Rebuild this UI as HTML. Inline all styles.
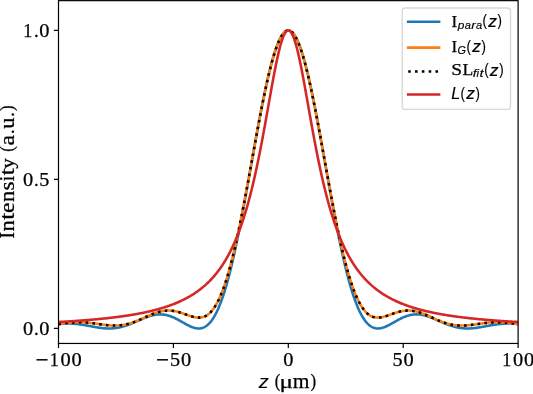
<!DOCTYPE html>
<html><head><meta charset="utf-8"><title>Intensity vs z</title><style>
html,body{margin:0;padding:0;background:#fff;}
body{width:533px;height:394px;overflow:hidden;}
svg{display:block;will-change:transform;}
</style></head><body>
<svg width="533" height="394" viewBox="0 0 533 394">
<rect x="0" y="0" width="533" height="394" fill="#fff"/>
<defs><clipPath id="ax"><rect x="58.5" y="0.6" width="459.6" height="342.85"/></clipPath></defs>
<g clip-path="url(#ax)" fill="none" stroke-width="2.57" stroke-linejoin="round">
<path d="M58.50,324.05 59.07,323.99 59.65,323.94 60.22,323.89 60.80,323.84 61.37,323.80 61.95,323.76 62.52,323.72 63.10,323.69 63.67,323.66 64.25,323.63 64.82,323.61 65.39,323.59 65.97,323.57 66.54,323.56 67.12,323.55 67.69,323.55 68.27,323.55 68.84,323.55 69.42,323.56 69.99,323.57 70.56,323.59 71.14,323.61 71.71,323.64 72.29,323.66 72.86,323.70 73.44,323.73 74.01,323.77 74.59,323.82 75.16,323.87 75.74,323.92 76.31,323.97 76.88,324.03 77.46,324.09 78.03,324.16 78.61,324.23 79.18,324.30 79.76,324.38 80.33,324.45 80.91,324.54 81.48,324.62 82.05,324.71 82.63,324.80 83.20,324.89 83.78,324.98 84.35,325.08 84.93,325.17 85.50,325.27 86.08,325.38 86.65,325.48 87.22,325.58 87.80,325.69 88.37,325.79 88.95,325.90 89.52,326.00 90.10,326.11 90.67,326.22 91.25,326.33 91.82,326.43 92.40,326.54 92.97,326.64 93.54,326.75 94.12,326.85 94.69,326.95 95.27,327.05 95.84,327.15 96.42,327.25 96.99,327.34 97.57,327.44 98.14,327.53 98.72,327.61 99.29,327.69 99.86,327.78 100.44,327.85 101.01,327.92 101.59,327.99 102.16,328.06 102.74,328.12 103.31,328.18 103.89,328.23 104.46,328.28 105.03,328.32 105.61,328.35 106.18,328.39 106.76,328.41 107.33,328.43 107.91,328.45 108.48,328.46 109.06,328.46 109.63,328.46 110.21,328.45 110.78,328.43 111.35,328.41 111.93,328.38 112.50,328.35 113.08,328.30 113.65,328.26 114.23,328.20 114.80,328.14 115.38,328.07 115.95,327.99 116.52,327.91 117.10,327.82 117.67,327.72 118.25,327.62 118.82,327.51 119.40,327.39 119.97,327.27 120.55,327.14 121.12,327.00 121.70,326.85 122.27,326.70 122.84,326.55 123.42,326.38 123.99,326.21 124.57,326.04 125.14,325.86 125.72,325.67 126.29,325.48 126.87,325.28 127.44,325.08 128.01,324.87 128.59,324.66 129.16,324.44 129.74,324.22 130.31,323.99 130.89,323.76 131.46,323.53 132.04,323.29 132.61,323.05 133.19,322.81 133.76,322.57 134.33,322.32 134.91,322.07 135.48,321.82 136.06,321.57 136.63,321.32 137.21,321.07 137.78,320.81 138.36,320.56 138.93,320.31 139.50,320.06 140.08,319.81 140.65,319.56 141.23,319.31 141.80,319.06 142.38,318.82 142.95,318.58 143.53,318.34 144.10,318.11 144.68,317.88 145.25,317.66 145.82,317.44 146.40,317.22 146.97,317.01 147.55,316.81 148.12,316.61 148.70,316.42 149.27,316.24 149.85,316.06 150.42,315.89 150.99,315.73 151.57,315.57 152.14,315.43 152.72,315.29 153.29,315.16 153.87,315.04 154.44,314.93 155.02,314.83 155.59,314.74 156.17,314.66 156.74,314.59 157.31,314.53 157.89,314.48 158.46,314.44 159.04,314.42 159.61,314.40 160.19,314.40 160.76,314.40 161.34,314.42 161.91,314.45 162.48,314.50 163.06,314.55 163.63,314.61 164.21,314.69 164.78,314.78 165.36,314.88 165.93,314.99 166.51,315.12 167.08,315.25 167.66,315.40 168.23,315.55 168.80,315.72 169.38,315.90 169.95,316.09 170.53,316.29 171.10,316.50 171.68,316.72 172.25,316.95 172.83,317.19 173.40,317.44 173.97,317.69 174.55,317.96 175.12,318.23 175.70,318.51 176.27,318.80 176.85,319.09 177.42,319.39 178.00,319.70 178.57,320.00 179.15,320.32 179.72,320.64 180.29,320.96 180.87,321.28 181.44,321.61 182.02,321.93 182.59,322.26 183.17,322.59 183.74,322.91 184.32,323.24 184.89,323.56 185.46,323.88 186.04,324.20 186.61,324.51 187.19,324.82 187.76,325.12 188.34,325.41 188.91,325.69 189.49,325.97 190.06,326.24 190.63,326.49 191.21,326.74 191.78,326.97 192.36,327.19 192.93,327.39 193.51,327.58 194.08,327.76 194.66,327.91 195.23,328.05 195.81,328.17 196.38,328.27 196.95,328.35 197.53,328.41 198.10,328.45 198.68,328.46 199.25,328.45 199.83,328.41 200.40,328.35 200.98,328.25 201.55,328.13 202.12,327.99 202.70,327.81 203.27,327.60 203.85,327.36 204.42,327.08 205.00,326.77 205.57,326.43 206.15,326.05 206.72,325.64 207.30,325.19 207.87,324.70 208.44,324.17 209.02,323.61 209.59,323.00 210.17,322.36 210.74,321.67 211.32,320.94 211.89,320.17 212.47,319.35 213.04,318.49 213.62,317.59 214.19,316.64 214.76,315.65 215.34,314.61 215.91,313.52 216.49,312.39 217.06,311.21 217.64,309.99 218.21,308.71 218.79,307.39 219.36,306.02 219.93,304.60 220.51,303.14 221.08,301.62 221.66,300.06 222.23,298.44 222.81,296.78 223.38,295.07 223.96,293.31 224.53,291.51 225.11,289.65 225.68,287.74 226.25,285.79 226.83,283.79 227.40,281.74 227.98,279.65 228.55,277.51 229.13,275.32 229.70,273.09 230.28,270.81 230.85,268.48 231.42,266.12 232.00,263.71 232.57,261.25 233.15,258.76 233.72,256.22 234.30,253.64 234.87,251.02 235.45,248.37 236.02,245.67 236.60,242.94 237.17,240.17 237.74,237.37 238.32,234.53 238.89,231.67 239.47,228.77 240.04,225.84 240.62,222.88 241.19,219.89 241.77,216.87 242.34,213.83 242.91,210.77 243.49,207.69 244.06,204.58 244.64,201.45 245.21,198.31 245.79,195.14 246.36,191.97 246.94,188.78 247.51,185.57 248.09,182.36 248.66,179.14 249.23,175.91 249.81,172.67 250.38,169.44 250.96,166.19 251.53,162.95 252.11,159.71 252.68,156.48 253.26,153.24 253.83,150.02 254.40,146.80 254.98,143.59 255.55,140.39 256.13,137.21 256.70,134.04 257.28,130.89 257.85,127.76 258.43,124.65 259.00,121.56 259.57,118.50 260.15,115.46 260.72,112.45 261.30,109.47 261.87,106.53 262.45,103.61 263.02,100.73 263.60,97.89 264.17,95.08 264.75,92.31 265.32,89.59 265.89,86.91 266.47,84.27 267.04,81.69 267.62,79.14 268.19,76.65 268.77,74.21 269.34,71.83 269.92,69.49 270.49,67.22 271.06,65.00 271.64,62.84 272.21,60.73 272.79,58.69 273.36,56.72 273.94,54.80 274.51,52.95 275.09,51.17 275.66,49.45 276.24,47.81 276.81,46.23 277.38,44.72 277.96,43.29 278.53,41.92 279.11,40.63 279.68,39.41 280.26,38.27 280.83,37.21 281.41,36.22 281.98,35.30 282.56,34.47 283.13,33.71 283.70,33.03 284.28,32.43 284.85,31.91 285.43,31.47 286.00,31.10 286.58,30.82 287.15,30.62 287.73,30.50 288.30,30.46 288.87,30.50 289.45,30.62 290.02,30.82 290.60,31.10 291.17,31.47 291.75,31.91 292.32,32.43 292.90,33.03 293.47,33.71 294.05,34.47 294.62,35.30 295.19,36.22 295.77,37.21 296.34,38.27 296.92,39.41 297.49,40.63 298.07,41.92 298.64,43.29 299.22,44.72 299.79,46.23 300.36,47.81 300.94,49.45 301.51,51.17 302.09,52.95 302.66,54.80 303.24,56.72 303.81,58.69 304.39,60.73 304.96,62.84 305.54,65.00 306.11,67.22 306.68,69.49 307.26,71.83 307.83,74.21 308.41,76.65 308.98,79.14 309.56,81.69 310.13,84.27 310.71,86.91 311.28,89.59 311.85,92.31 312.43,95.08 313.00,97.89 313.58,100.73 314.15,103.61 314.73,106.53 315.30,109.47 315.88,112.45 316.45,115.46 317.03,118.50 317.60,121.56 318.17,124.65 318.75,127.76 319.32,130.89 319.90,134.04 320.47,137.21 321.05,140.39 321.62,143.59 322.20,146.80 322.77,150.02 323.34,153.24 323.92,156.48 324.49,159.71 325.07,162.95 325.64,166.19 326.22,169.44 326.79,172.67 327.37,175.91 327.94,179.14 328.51,182.36 329.09,185.57 329.66,188.78 330.24,191.97 330.81,195.14 331.39,198.31 331.96,201.45 332.54,204.58 333.11,207.69 333.69,210.77 334.26,213.83 334.83,216.87 335.41,219.89 335.98,222.88 336.56,225.84 337.13,228.77 337.71,231.67 338.28,234.53 338.86,237.37 339.43,240.17 340.00,242.94 340.58,245.67 341.15,248.37 341.73,251.02 342.30,253.64 342.88,256.22 343.45,258.76 344.03,261.25 344.60,263.71 345.18,266.12 345.75,268.48 346.32,270.81 346.90,273.09 347.47,275.32 348.05,277.51 348.62,279.65 349.20,281.74 349.77,283.79 350.35,285.79 350.92,287.74 351.50,289.65 352.07,291.51 352.64,293.31 353.22,295.07 353.79,296.78 354.37,298.44 354.94,300.06 355.52,301.62 356.09,303.14 356.67,304.60 357.24,306.02 357.81,307.39 358.39,308.71 358.96,309.99 359.54,311.21 360.11,312.39 360.69,313.52 361.26,314.61 361.84,315.65 362.41,316.64 362.99,317.59 363.56,318.49 364.13,319.35 364.71,320.17 365.28,320.94 365.86,321.67 366.43,322.36 367.01,323.00 367.58,323.61 368.16,324.17 368.73,324.70 369.30,325.19 369.88,325.64 370.45,326.05 371.03,326.43 371.60,326.77 372.18,327.08 372.75,327.36 373.33,327.60 373.90,327.81 374.48,327.99 375.05,328.13 375.62,328.25 376.20,328.35 376.77,328.41 377.35,328.45 377.92,328.46 378.50,328.45 379.07,328.41 379.65,328.35 380.22,328.27 380.79,328.17 381.37,328.05 381.94,327.91 382.52,327.76 383.09,327.58 383.67,327.39 384.24,327.19 384.82,326.97 385.39,326.74 385.97,326.49 386.54,326.24 387.11,325.97 387.69,325.69 388.26,325.41 388.84,325.12 389.41,324.82 389.99,324.51 390.56,324.20 391.14,323.88 391.71,323.56 392.28,323.24 392.86,322.91 393.43,322.59 394.01,322.26 394.58,321.93 395.16,321.61 395.73,321.28 396.31,320.96 396.88,320.64 397.46,320.32 398.03,320.00 398.60,319.70 399.18,319.39 399.75,319.09 400.33,318.80 400.90,318.51 401.48,318.23 402.05,317.96 402.63,317.69 403.20,317.44 403.77,317.19 404.35,316.95 404.92,316.72 405.50,316.50 406.07,316.29 406.65,316.09 407.22,315.90 407.80,315.72 408.37,315.55 408.94,315.40 409.52,315.25 410.09,315.12 410.67,314.99 411.24,314.88 411.82,314.78 412.39,314.69 412.97,314.61 413.54,314.55 414.12,314.50 414.69,314.45 415.26,314.42 415.84,314.40 416.41,314.40 416.99,314.40 417.56,314.42 418.14,314.44 418.71,314.48 419.29,314.53 419.86,314.59 420.44,314.66 421.01,314.74 421.58,314.83 422.16,314.93 422.73,315.04 423.31,315.16 423.88,315.29 424.46,315.43 425.03,315.57 425.61,315.73 426.18,315.89 426.75,316.06 427.33,316.24 427.90,316.42 428.48,316.61 429.05,316.81 429.63,317.01 430.20,317.22 430.78,317.44 431.35,317.66 431.93,317.88 432.50,318.11 433.07,318.34 433.65,318.58 434.22,318.82 434.80,319.06 435.37,319.31 435.95,319.56 436.52,319.81 437.10,320.06 437.67,320.31 438.24,320.56 438.82,320.81 439.39,321.07 439.97,321.32 440.54,321.57 441.12,321.82 441.69,322.07 442.27,322.32 442.84,322.57 443.42,322.81 443.99,323.05 444.56,323.29 445.14,323.53 445.71,323.76 446.29,323.99 446.86,324.22 447.44,324.44 448.01,324.66 448.59,324.87 449.16,325.08 449.73,325.28 450.31,325.48 450.88,325.67 451.46,325.86 452.03,326.04 452.61,326.21 453.18,326.38 453.76,326.55 454.33,326.70 454.90,326.85 455.48,327.00 456.05,327.14 456.63,327.27 457.20,327.39 457.78,327.51 458.35,327.62 458.93,327.72 459.50,327.82 460.08,327.91 460.65,327.99 461.22,328.07 461.80,328.14 462.37,328.20 462.95,328.26 463.52,328.30 464.10,328.35 464.67,328.38 465.25,328.41 465.82,328.43 466.39,328.45 466.97,328.46 467.54,328.46 468.12,328.46 468.69,328.45 469.27,328.43 469.84,328.41 470.42,328.39 470.99,328.35 471.57,328.32 472.14,328.28 472.71,328.23 473.29,328.18 473.86,328.12 474.44,328.06 475.01,327.99 475.59,327.92 476.16,327.85 476.74,327.78 477.31,327.69 477.88,327.61 478.46,327.53 479.03,327.44 479.61,327.34 480.18,327.25 480.76,327.15 481.33,327.05 481.91,326.95 482.48,326.85 483.06,326.75 483.63,326.64 484.20,326.54 484.78,326.43 485.35,326.33 485.93,326.22 486.50,326.11 487.08,326.00 487.65,325.90 488.23,325.79 488.80,325.69 489.38,325.58 489.95,325.48 490.52,325.38 491.10,325.27 491.67,325.17 492.25,325.08 492.82,324.98 493.40,324.89 493.97,324.80 494.55,324.71 495.12,324.62 495.69,324.54 496.27,324.45 496.84,324.38 497.42,324.30 497.99,324.23 498.57,324.16 499.14,324.09 499.72,324.03 500.29,323.97 500.87,323.92 501.44,323.87 502.01,323.82 502.59,323.77 503.16,323.73 503.74,323.70 504.31,323.66 504.89,323.64 505.46,323.61 506.04,323.59 506.61,323.57 507.18,323.56 507.76,323.55 508.33,323.55 508.91,323.55 509.48,323.55 510.06,323.56 510.63,323.57 511.21,323.59 511.78,323.61 512.36,323.63 512.93,323.66 513.50,323.69 514.08,323.72 514.65,323.76 515.23,323.80 515.80,323.84 516.38,323.89 516.95,323.94 517.53,323.99 518.10,324.05" stroke="#1f77b4" stroke-linecap="square"/>
<path id="og" d="M58.50,324.20 59.07,324.11 59.65,324.02 60.22,323.93 60.80,323.84 61.37,323.76 61.95,323.67 62.52,323.59 63.10,323.50 63.67,323.42 64.25,323.34 64.82,323.26 65.39,323.19 65.97,323.11 66.54,323.04 67.12,322.97 67.69,322.91 68.27,322.84 68.84,322.78 69.42,322.72 69.99,322.67 70.56,322.61 71.14,322.56 71.71,322.52 72.29,322.47 72.86,322.43 73.44,322.39 74.01,322.36 74.59,322.33 75.16,322.30 75.74,322.28 76.31,322.26 76.88,322.25 77.46,322.24 78.03,322.23 78.61,322.22 79.18,322.22 79.76,322.23 80.33,322.23 80.91,322.24 81.48,322.26 82.05,322.27 82.63,322.30 83.20,322.32 83.78,322.35 84.35,322.38 84.93,322.42 85.50,322.46 86.08,322.50 86.65,322.55 87.22,322.59 87.80,322.65 88.37,322.70 88.95,322.76 89.52,322.82 90.10,322.88 90.67,322.95 91.25,323.02 91.82,323.09 92.40,323.16 92.97,323.23 93.54,323.31 94.12,323.38 94.69,323.46 95.27,323.54 95.84,323.62 96.42,323.71 96.99,323.79 97.57,323.87 98.14,323.95 98.72,324.04 99.29,324.12 99.86,324.20 100.44,324.29 101.01,324.37 101.59,324.45 102.16,324.53 102.74,324.61 103.31,324.69 103.89,324.76 104.46,324.83 105.03,324.90 105.61,324.97 106.18,325.04 106.76,325.10 107.33,325.16 107.91,325.22 108.48,325.27 109.06,325.32 109.63,325.37 110.21,325.41 110.78,325.45 111.35,325.48 111.93,325.51 112.50,325.54 113.08,325.55 113.65,325.57 114.23,325.58 114.80,325.58 115.38,325.58 115.95,325.57 116.52,325.56 117.10,325.54 117.67,325.51 118.25,325.48 118.82,325.44 119.40,325.40 119.97,325.35 120.55,325.29 121.12,325.22 121.70,325.15 122.27,325.08 122.84,324.99 123.42,324.90 123.99,324.80 124.57,324.70 125.14,324.59 125.72,324.47 126.29,324.34 126.87,324.21 127.44,324.07 128.01,323.93 128.59,323.78 129.16,323.62 129.74,323.45 130.31,323.28 130.89,323.11 131.46,322.93 132.04,322.74 132.61,322.54 133.19,322.34 133.76,322.14 134.33,321.93 134.91,321.71 135.48,321.49 136.06,321.27 136.63,321.04 137.21,320.81 137.78,320.57 138.36,320.33 138.93,320.09 139.50,319.84 140.08,319.59 140.65,319.34 141.23,319.08 141.80,318.83 142.38,318.57 142.95,318.31 143.53,318.05 144.10,317.79 144.68,317.53 145.25,317.27 145.82,317.01 146.40,316.75 146.97,316.49 147.55,316.23 148.12,315.97 148.70,315.72 149.27,315.47 149.85,315.22 150.42,314.97 150.99,314.73 151.57,314.49 152.14,314.26 152.72,314.03 153.29,313.80 153.87,313.58 154.44,313.37 155.02,313.16 155.59,312.96 156.17,312.76 156.74,312.57 157.31,312.39 157.89,312.21 158.46,312.05 159.04,311.89 159.61,311.73 160.19,311.59 160.76,311.46 161.34,311.33 161.91,311.21 162.48,311.11 163.06,311.01 163.63,310.92 164.21,310.84 164.78,310.77 165.36,310.71 165.93,310.66 166.51,310.62 167.08,310.59 167.66,310.57 168.23,310.56 168.80,310.57 169.38,310.58 169.95,310.60 170.53,310.63 171.10,310.67 171.68,310.73 172.25,310.79 172.83,310.86 173.40,310.94 173.97,311.03 174.55,311.13 175.12,311.24 175.70,311.36 176.27,311.48 176.85,311.62 177.42,311.76 178.00,311.91 178.57,312.07 179.15,312.23 179.72,312.40 180.29,312.58 180.87,312.76 181.44,312.94 182.02,313.13 182.59,313.33 183.17,313.53 183.74,313.73 184.32,313.93 184.89,314.13 185.46,314.34 186.04,314.54 186.61,314.75 187.19,314.95 187.76,315.16 188.34,315.36 188.91,315.55 189.49,315.75 190.06,315.93 190.63,316.12 191.21,316.29 191.78,316.46 192.36,316.62 192.93,316.77 193.51,316.92 194.08,317.05 194.66,317.17 195.23,317.27 195.81,317.37 196.38,317.45 196.95,317.51 197.53,317.56 198.10,317.59 198.68,317.60 199.25,317.60 199.83,317.57 200.40,317.52 200.98,317.46 201.55,317.36 202.12,317.25 202.70,317.11 203.27,316.94 203.85,316.75 204.42,316.53 205.00,316.28 205.57,316.00 206.15,315.69 206.72,315.35 207.30,314.98 207.87,314.58 208.44,314.14 209.02,313.67 209.59,313.16 210.17,312.61 210.74,312.03 211.32,311.41 211.89,310.75 212.47,310.05 213.04,309.32 213.62,308.54 214.19,307.72 214.76,306.85 215.34,305.95 215.91,305.00 216.49,304.01 217.06,302.97 217.64,301.89 218.21,300.76 218.79,299.59 219.36,298.37 219.93,297.11 220.51,295.80 221.08,294.44 221.66,293.03 222.23,291.58 222.81,290.08 223.38,288.53 223.96,286.93 224.53,285.29 225.11,283.59 225.68,281.85 226.25,280.06 226.83,278.23 227.40,276.34 227.98,274.41 228.55,272.43 229.13,270.41 229.70,268.33 230.28,266.21 230.85,264.05 231.42,261.84 232.00,259.59 232.57,257.29 233.15,254.94 233.72,252.56 234.30,250.13 234.87,247.66 235.45,245.15 236.02,242.60 236.60,240.01 237.17,237.38 237.74,234.72 238.32,232.02 238.89,229.28 239.47,226.51 240.04,223.71 240.62,220.87 241.19,218.00 241.77,215.11 242.34,212.18 242.91,209.23 243.49,206.25 244.06,203.25 244.64,200.22 245.21,197.18 245.79,194.11 246.36,191.03 246.94,187.92 247.51,184.81 248.09,181.68 248.66,178.53 249.23,175.38 249.81,172.22 250.38,169.05 250.96,165.87 251.53,162.69 252.11,159.51 252.68,156.33 253.26,153.15 253.83,149.97 254.40,146.80 254.98,143.63 255.55,140.48 256.13,137.33 256.70,134.20 257.28,131.08 257.85,127.98 258.43,124.90 259.00,121.83 259.57,118.79 260.15,115.77 260.72,112.78 261.30,109.81 261.87,106.87 262.45,103.97 263.02,101.09 263.60,98.26 264.17,95.45 264.75,92.69 265.32,89.97 265.89,87.28 266.47,84.64 267.04,82.05 267.62,79.50 268.19,77.01 268.77,74.56 269.34,72.16 269.92,69.82 270.49,67.53 271.06,65.30 271.64,63.13 272.21,61.01 272.79,58.96 273.36,56.97 273.94,55.04 274.51,53.18 275.09,51.38 275.66,49.65 276.24,47.99 276.81,46.40 277.38,44.87 277.96,43.42 278.53,42.05 279.11,40.74 279.68,39.51 280.26,38.36 280.83,37.28 281.41,36.28 281.98,35.36 282.56,34.51 283.13,33.75 283.70,33.06 284.28,32.45 284.85,31.92 285.43,31.48 286.00,31.11 286.58,30.83 287.15,30.62 287.73,30.50 288.30,30.46 288.87,30.50 289.45,30.62 290.02,30.83 290.60,31.11 291.17,31.48 291.75,31.92 292.32,32.45 292.90,33.06 293.47,33.75 294.05,34.51 294.62,35.36 295.19,36.28 295.77,37.28 296.34,38.36 296.92,39.51 297.49,40.74 298.07,42.05 298.64,43.42 299.22,44.87 299.79,46.40 300.36,47.99 300.94,49.65 301.51,51.38 302.09,53.18 302.66,55.04 303.24,56.97 303.81,58.96 304.39,61.01 304.96,63.13 305.54,65.30 306.11,67.53 306.68,69.82 307.26,72.16 307.83,74.56 308.41,77.01 308.98,79.50 309.56,82.05 310.13,84.64 310.71,87.28 311.28,89.97 311.85,92.69 312.43,95.45 313.00,98.26 313.58,101.09 314.15,103.97 314.73,106.87 315.30,109.81 315.88,112.78 316.45,115.77 317.03,118.79 317.60,121.83 318.17,124.90 318.75,127.98 319.32,131.08 319.90,134.20 320.47,137.33 321.05,140.48 321.62,143.63 322.20,146.80 322.77,149.97 323.34,153.15 323.92,156.33 324.49,159.51 325.07,162.69 325.64,165.87 326.22,169.05 326.79,172.22 327.37,175.38 327.94,178.53 328.51,181.68 329.09,184.81 329.66,187.92 330.24,191.03 330.81,194.11 331.39,197.18 331.96,200.22 332.54,203.25 333.11,206.25 333.69,209.23 334.26,212.18 334.83,215.11 335.41,218.00 335.98,220.87 336.56,223.71 337.13,226.51 337.71,229.28 338.28,232.02 338.86,234.72 339.43,237.38 340.00,240.01 340.58,242.60 341.15,245.15 341.73,247.66 342.30,250.13 342.88,252.56 343.45,254.94 344.03,257.29 344.60,259.59 345.18,261.84 345.75,264.05 346.32,266.21 346.90,268.33 347.47,270.41 348.05,272.43 348.62,274.41 349.20,276.34 349.77,278.23 350.35,280.06 350.92,281.85 351.50,283.59 352.07,285.29 352.64,286.93 353.22,288.53 353.79,290.08 354.37,291.58 354.94,293.03 355.52,294.44 356.09,295.80 356.67,297.11 357.24,298.37 357.81,299.59 358.39,300.76 358.96,301.89 359.54,302.97 360.11,304.01 360.69,305.00 361.26,305.95 361.84,306.85 362.41,307.72 362.99,308.54 363.56,309.32 364.13,310.05 364.71,310.75 365.28,311.41 365.86,312.03 366.43,312.61 367.01,313.16 367.58,313.67 368.16,314.14 368.73,314.58 369.30,314.98 369.88,315.35 370.45,315.69 371.03,316.00 371.60,316.28 372.18,316.53 372.75,316.75 373.33,316.94 373.90,317.11 374.48,317.25 375.05,317.36 375.62,317.46 376.20,317.52 376.77,317.57 377.35,317.60 377.92,317.60 378.50,317.59 379.07,317.56 379.65,317.51 380.22,317.45 380.79,317.37 381.37,317.27 381.94,317.17 382.52,317.05 383.09,316.92 383.67,316.77 384.24,316.62 384.82,316.46 385.39,316.29 385.97,316.12 386.54,315.93 387.11,315.75 387.69,315.55 388.26,315.36 388.84,315.16 389.41,314.95 389.99,314.75 390.56,314.54 391.14,314.34 391.71,314.13 392.28,313.93 392.86,313.73 393.43,313.53 394.01,313.33 394.58,313.13 395.16,312.94 395.73,312.76 396.31,312.58 396.88,312.40 397.46,312.23 398.03,312.07 398.60,311.91 399.18,311.76 399.75,311.62 400.33,311.48 400.90,311.36 401.48,311.24 402.05,311.13 402.63,311.03 403.20,310.94 403.77,310.86 404.35,310.79 404.92,310.73 405.50,310.67 406.07,310.63 406.65,310.60 407.22,310.58 407.80,310.57 408.37,310.56 408.94,310.57 409.52,310.59 410.09,310.62 410.67,310.66 411.24,310.71 411.82,310.77 412.39,310.84 412.97,310.92 413.54,311.01 414.12,311.11 414.69,311.21 415.26,311.33 415.84,311.46 416.41,311.59 416.99,311.73 417.56,311.89 418.14,312.05 418.71,312.21 419.29,312.39 419.86,312.57 420.44,312.76 421.01,312.96 421.58,313.16 422.16,313.37 422.73,313.58 423.31,313.80 423.88,314.03 424.46,314.26 425.03,314.49 425.61,314.73 426.18,314.97 426.75,315.22 427.33,315.47 427.90,315.72 428.48,315.97 429.05,316.23 429.63,316.49 430.20,316.75 430.78,317.01 431.35,317.27 431.93,317.53 432.50,317.79 433.07,318.05 433.65,318.31 434.22,318.57 434.80,318.83 435.37,319.08 435.95,319.34 436.52,319.59 437.10,319.84 437.67,320.09 438.24,320.33 438.82,320.57 439.39,320.81 439.97,321.04 440.54,321.27 441.12,321.49 441.69,321.71 442.27,321.93 442.84,322.14 443.42,322.34 443.99,322.54 444.56,322.74 445.14,322.93 445.71,323.11 446.29,323.28 446.86,323.45 447.44,323.62 448.01,323.78 448.59,323.93 449.16,324.07 449.73,324.21 450.31,324.34 450.88,324.47 451.46,324.59 452.03,324.70 452.61,324.80 453.18,324.90 453.76,324.99 454.33,325.08 454.90,325.15 455.48,325.22 456.05,325.29 456.63,325.35 457.20,325.40 457.78,325.44 458.35,325.48 458.93,325.51 459.50,325.54 460.08,325.56 460.65,325.57 461.22,325.58 461.80,325.58 462.37,325.58 462.95,325.57 463.52,325.55 464.10,325.54 464.67,325.51 465.25,325.48 465.82,325.45 466.39,325.41 466.97,325.37 467.54,325.32 468.12,325.27 468.69,325.22 469.27,325.16 469.84,325.10 470.42,325.04 470.99,324.97 471.57,324.90 472.14,324.83 472.71,324.76 473.29,324.69 473.86,324.61 474.44,324.53 475.01,324.45 475.59,324.37 476.16,324.29 476.74,324.20 477.31,324.12 477.88,324.04 478.46,323.95 479.03,323.87 479.61,323.79 480.18,323.71 480.76,323.62 481.33,323.54 481.91,323.46 482.48,323.38 483.06,323.31 483.63,323.23 484.20,323.16 484.78,323.09 485.35,323.02 485.93,322.95 486.50,322.88 487.08,322.82 487.65,322.76 488.23,322.70 488.80,322.65 489.38,322.59 489.95,322.55 490.52,322.50 491.10,322.46 491.67,322.42 492.25,322.38 492.82,322.35 493.40,322.32 493.97,322.30 494.55,322.27 495.12,322.26 495.69,322.24 496.27,322.23 496.84,322.23 497.42,322.22 497.99,322.22 498.57,322.23 499.14,322.24 499.72,322.25 500.29,322.26 500.87,322.28 501.44,322.30 502.01,322.33 502.59,322.36 503.16,322.39 503.74,322.43 504.31,322.47 504.89,322.52 505.46,322.56 506.04,322.61 506.61,322.67 507.18,322.72 507.76,322.78 508.33,322.84 508.91,322.91 509.48,322.97 510.06,323.04 510.63,323.11 511.21,323.19 511.78,323.26 512.36,323.34 512.93,323.42 513.50,323.50 514.08,323.59 514.65,323.67 515.23,323.76 515.80,323.84 516.38,323.93 516.95,324.02 517.53,324.11 518.10,324.20" stroke="#ff7f0e" stroke-linecap="square"/>
<path d="M58.50,324.20 59.07,324.11 59.65,324.02 60.22,323.93 60.80,323.84 61.37,323.76 61.95,323.67 62.52,323.59 63.10,323.50 63.67,323.42 64.25,323.34 64.82,323.26 65.39,323.19 65.97,323.11 66.54,323.04 67.12,322.97 67.69,322.91 68.27,322.84 68.84,322.78 69.42,322.72 69.99,322.67 70.56,322.61 71.14,322.56 71.71,322.52 72.29,322.47 72.86,322.43 73.44,322.39 74.01,322.36 74.59,322.33 75.16,322.30 75.74,322.28 76.31,322.26 76.88,322.25 77.46,322.24 78.03,322.23 78.61,322.22 79.18,322.22 79.76,322.23 80.33,322.23 80.91,322.24 81.48,322.26 82.05,322.27 82.63,322.30 83.20,322.32 83.78,322.35 84.35,322.38 84.93,322.42 85.50,322.46 86.08,322.50 86.65,322.55 87.22,322.59 87.80,322.65 88.37,322.70 88.95,322.76 89.52,322.82 90.10,322.88 90.67,322.95 91.25,323.02 91.82,323.09 92.40,323.16 92.97,323.23 93.54,323.31 94.12,323.38 94.69,323.46 95.27,323.54 95.84,323.62 96.42,323.71 96.99,323.79 97.57,323.87 98.14,323.95 98.72,324.04 99.29,324.12 99.86,324.20 100.44,324.29 101.01,324.37 101.59,324.45 102.16,324.53 102.74,324.61 103.31,324.69 103.89,324.76 104.46,324.83 105.03,324.90 105.61,324.97 106.18,325.04 106.76,325.10 107.33,325.16 107.91,325.22 108.48,325.27 109.06,325.32 109.63,325.37 110.21,325.41 110.78,325.45 111.35,325.48 111.93,325.51 112.50,325.54 113.08,325.55 113.65,325.57 114.23,325.58 114.80,325.58 115.38,325.58 115.95,325.57 116.52,325.56 117.10,325.54 117.67,325.51 118.25,325.48 118.82,325.44 119.40,325.40 119.97,325.35 120.55,325.29 121.12,325.22 121.70,325.15 122.27,325.08 122.84,324.99 123.42,324.90 123.99,324.80 124.57,324.70 125.14,324.59 125.72,324.47 126.29,324.34 126.87,324.21 127.44,324.07 128.01,323.93 128.59,323.78 129.16,323.62 129.74,323.45 130.31,323.28 130.89,323.11 131.46,322.93 132.04,322.74 132.61,322.54 133.19,322.34 133.76,322.14 134.33,321.93 134.91,321.71 135.48,321.49 136.06,321.27 136.63,321.04 137.21,320.81 137.78,320.57 138.36,320.33 138.93,320.09 139.50,319.84 140.08,319.59 140.65,319.34 141.23,319.08 141.80,318.83 142.38,318.57 142.95,318.31 143.53,318.05 144.10,317.79 144.68,317.53 145.25,317.27 145.82,317.01 146.40,316.75 146.97,316.49 147.55,316.23 148.12,315.97 148.70,315.72 149.27,315.47 149.85,315.22 150.42,314.97 150.99,314.73 151.57,314.49 152.14,314.26 152.72,314.03 153.29,313.80 153.87,313.58 154.44,313.37 155.02,313.16 155.59,312.96 156.17,312.76 156.74,312.57 157.31,312.39 157.89,312.21 158.46,312.05 159.04,311.89 159.61,311.73 160.19,311.59 160.76,311.46 161.34,311.33 161.91,311.21 162.48,311.11 163.06,311.01 163.63,310.92 164.21,310.84 164.78,310.77 165.36,310.71 165.93,310.66 166.51,310.62 167.08,310.59 167.66,310.57 168.23,310.56 168.80,310.57 169.38,310.58 169.95,310.60 170.53,310.63 171.10,310.67 171.68,310.73 172.25,310.79 172.83,310.86 173.40,310.94 173.97,311.03 174.55,311.13 175.12,311.24 175.70,311.36 176.27,311.48 176.85,311.62 177.42,311.76 178.00,311.91 178.57,312.07 179.15,312.23 179.72,312.40 180.29,312.58 180.87,312.76 181.44,312.94 182.02,313.13 182.59,313.33 183.17,313.53 183.74,313.73 184.32,313.93 184.89,314.13 185.46,314.34 186.04,314.54 186.61,314.75 187.19,314.95 187.76,315.16 188.34,315.36 188.91,315.55 189.49,315.75 190.06,315.93 190.63,316.12 191.21,316.29 191.78,316.46 192.36,316.62 192.93,316.77 193.51,316.92 194.08,317.05 194.66,317.17 195.23,317.27 195.81,317.37 196.38,317.45 196.95,317.51 197.53,317.56 198.10,317.59 198.68,317.60 199.25,317.60 199.83,317.57 200.40,317.52 200.98,317.46 201.55,317.36 202.12,317.25 202.70,317.11 203.27,316.94 203.85,316.75 204.42,316.53 205.00,316.28 205.57,316.00 206.15,315.69 206.72,315.35 207.30,314.98 207.87,314.58 208.44,314.14 209.02,313.67 209.59,313.16 210.17,312.61 210.74,312.03 211.32,311.41 211.89,310.75 212.47,310.05 213.04,309.32 213.62,308.54 214.19,307.72 214.76,306.85 215.34,305.95 215.91,305.00 216.49,304.01 217.06,302.97 217.64,301.89 218.21,300.76 218.79,299.59 219.36,298.37 219.93,297.11 220.51,295.80 221.08,294.44 221.66,293.03 222.23,291.58 222.81,290.08 223.38,288.53 223.96,286.93 224.53,285.29 225.11,283.59 225.68,281.85 226.25,280.06 226.83,278.23 227.40,276.34 227.98,274.41 228.55,272.43 229.13,270.41 229.70,268.33 230.28,266.21 230.85,264.05 231.42,261.84 232.00,259.59 232.57,257.29 233.15,254.94 233.72,252.56 234.30,250.13 234.87,247.66 235.45,245.15 236.02,242.60 236.60,240.01 237.17,237.38 237.74,234.72 238.32,232.02 238.89,229.28 239.47,226.51 240.04,223.71 240.62,220.87 241.19,218.00 241.77,215.11 242.34,212.18 242.91,209.23 243.49,206.25 244.06,203.25 244.64,200.22 245.21,197.18 245.79,194.11 246.36,191.03 246.94,187.92 247.51,184.81 248.09,181.68 248.66,178.53 249.23,175.38 249.81,172.22 250.38,169.05 250.96,165.87 251.53,162.69 252.11,159.51 252.68,156.33 253.26,153.15 253.83,149.97 254.40,146.80 254.98,143.63 255.55,140.48 256.13,137.33 256.70,134.20 257.28,131.08 257.85,127.98 258.43,124.90 259.00,121.83 259.57,118.79 260.15,115.77 260.72,112.78 261.30,109.81 261.87,106.87 262.45,103.97 263.02,101.09 263.60,98.26 264.17,95.45 264.75,92.69 265.32,89.97 265.89,87.28 266.47,84.64 267.04,82.05 267.62,79.50 268.19,77.01 268.77,74.56 269.34,72.16 269.92,69.82 270.49,67.53 271.06,65.30 271.64,63.13 272.21,61.01 272.79,58.96 273.36,56.97 273.94,55.04 274.51,53.18 275.09,51.38 275.66,49.65 276.24,47.99 276.81,46.40 277.38,44.87 277.96,43.42 278.53,42.05 279.11,40.74 279.68,39.51 280.26,38.36 280.83,37.28 281.41,36.28 281.98,35.36 282.56,34.51 283.13,33.75 283.70,33.06 284.28,32.45 284.85,31.92 285.43,31.48 286.00,31.11 286.58,30.83 287.15,30.62 287.73,30.50 288.30,30.46 288.87,30.50 289.45,30.62 290.02,30.83 290.60,31.11 291.17,31.48 291.75,31.92 292.32,32.45 292.90,33.06 293.47,33.75 294.05,34.51 294.62,35.36 295.19,36.28 295.77,37.28 296.34,38.36 296.92,39.51 297.49,40.74 298.07,42.05 298.64,43.42 299.22,44.87 299.79,46.40 300.36,47.99 300.94,49.65 301.51,51.38 302.09,53.18 302.66,55.04 303.24,56.97 303.81,58.96 304.39,61.01 304.96,63.13 305.54,65.30 306.11,67.53 306.68,69.82 307.26,72.16 307.83,74.56 308.41,77.01 308.98,79.50 309.56,82.05 310.13,84.64 310.71,87.28 311.28,89.97 311.85,92.69 312.43,95.45 313.00,98.26 313.58,101.09 314.15,103.97 314.73,106.87 315.30,109.81 315.88,112.78 316.45,115.77 317.03,118.79 317.60,121.83 318.17,124.90 318.75,127.98 319.32,131.08 319.90,134.20 320.47,137.33 321.05,140.48 321.62,143.63 322.20,146.80 322.77,149.97 323.34,153.15 323.92,156.33 324.49,159.51 325.07,162.69 325.64,165.87 326.22,169.05 326.79,172.22 327.37,175.38 327.94,178.53 328.51,181.68 329.09,184.81 329.66,187.92 330.24,191.03 330.81,194.11 331.39,197.18 331.96,200.22 332.54,203.25 333.11,206.25 333.69,209.23 334.26,212.18 334.83,215.11 335.41,218.00 335.98,220.87 336.56,223.71 337.13,226.51 337.71,229.28 338.28,232.02 338.86,234.72 339.43,237.38 340.00,240.01 340.58,242.60 341.15,245.15 341.73,247.66 342.30,250.13 342.88,252.56 343.45,254.94 344.03,257.29 344.60,259.59 345.18,261.84 345.75,264.05 346.32,266.21 346.90,268.33 347.47,270.41 348.05,272.43 348.62,274.41 349.20,276.34 349.77,278.23 350.35,280.06 350.92,281.85 351.50,283.59 352.07,285.29 352.64,286.93 353.22,288.53 353.79,290.08 354.37,291.58 354.94,293.03 355.52,294.44 356.09,295.80 356.67,297.11 357.24,298.37 357.81,299.59 358.39,300.76 358.96,301.89 359.54,302.97 360.11,304.01 360.69,305.00 361.26,305.95 361.84,306.85 362.41,307.72 362.99,308.54 363.56,309.32 364.13,310.05 364.71,310.75 365.28,311.41 365.86,312.03 366.43,312.61 367.01,313.16 367.58,313.67 368.16,314.14 368.73,314.58 369.30,314.98 369.88,315.35 370.45,315.69 371.03,316.00 371.60,316.28 372.18,316.53 372.75,316.75 373.33,316.94 373.90,317.11 374.48,317.25 375.05,317.36 375.62,317.46 376.20,317.52 376.77,317.57 377.35,317.60 377.92,317.60 378.50,317.59 379.07,317.56 379.65,317.51 380.22,317.45 380.79,317.37 381.37,317.27 381.94,317.17 382.52,317.05 383.09,316.92 383.67,316.77 384.24,316.62 384.82,316.46 385.39,316.29 385.97,316.12 386.54,315.93 387.11,315.75 387.69,315.55 388.26,315.36 388.84,315.16 389.41,314.95 389.99,314.75 390.56,314.54 391.14,314.34 391.71,314.13 392.28,313.93 392.86,313.73 393.43,313.53 394.01,313.33 394.58,313.13 395.16,312.94 395.73,312.76 396.31,312.58 396.88,312.40 397.46,312.23 398.03,312.07 398.60,311.91 399.18,311.76 399.75,311.62 400.33,311.48 400.90,311.36 401.48,311.24 402.05,311.13 402.63,311.03 403.20,310.94 403.77,310.86 404.35,310.79 404.92,310.73 405.50,310.67 406.07,310.63 406.65,310.60 407.22,310.58 407.80,310.57 408.37,310.56 408.94,310.57 409.52,310.59 410.09,310.62 410.67,310.66 411.24,310.71 411.82,310.77 412.39,310.84 412.97,310.92 413.54,311.01 414.12,311.11 414.69,311.21 415.26,311.33 415.84,311.46 416.41,311.59 416.99,311.73 417.56,311.89 418.14,312.05 418.71,312.21 419.29,312.39 419.86,312.57 420.44,312.76 421.01,312.96 421.58,313.16 422.16,313.37 422.73,313.58 423.31,313.80 423.88,314.03 424.46,314.26 425.03,314.49 425.61,314.73 426.18,314.97 426.75,315.22 427.33,315.47 427.90,315.72 428.48,315.97 429.05,316.23 429.63,316.49 430.20,316.75 430.78,317.01 431.35,317.27 431.93,317.53 432.50,317.79 433.07,318.05 433.65,318.31 434.22,318.57 434.80,318.83 435.37,319.08 435.95,319.34 436.52,319.59 437.10,319.84 437.67,320.09 438.24,320.33 438.82,320.57 439.39,320.81 439.97,321.04 440.54,321.27 441.12,321.49 441.69,321.71 442.27,321.93 442.84,322.14 443.42,322.34 443.99,322.54 444.56,322.74 445.14,322.93 445.71,323.11 446.29,323.28 446.86,323.45 447.44,323.62 448.01,323.78 448.59,323.93 449.16,324.07 449.73,324.21 450.31,324.34 450.88,324.47 451.46,324.59 452.03,324.70 452.61,324.80 453.18,324.90 453.76,324.99 454.33,325.08 454.90,325.15 455.48,325.22 456.05,325.29 456.63,325.35 457.20,325.40 457.78,325.44 458.35,325.48 458.93,325.51 459.50,325.54 460.08,325.56 460.65,325.57 461.22,325.58 461.80,325.58 462.37,325.58 462.95,325.57 463.52,325.55 464.10,325.54 464.67,325.51 465.25,325.48 465.82,325.45 466.39,325.41 466.97,325.37 467.54,325.32 468.12,325.27 468.69,325.22 469.27,325.16 469.84,325.10 470.42,325.04 470.99,324.97 471.57,324.90 472.14,324.83 472.71,324.76 473.29,324.69 473.86,324.61 474.44,324.53 475.01,324.45 475.59,324.37 476.16,324.29 476.74,324.20 477.31,324.12 477.88,324.04 478.46,323.95 479.03,323.87 479.61,323.79 480.18,323.71 480.76,323.62 481.33,323.54 481.91,323.46 482.48,323.38 483.06,323.31 483.63,323.23 484.20,323.16 484.78,323.09 485.35,323.02 485.93,322.95 486.50,322.88 487.08,322.82 487.65,322.76 488.23,322.70 488.80,322.65 489.38,322.59 489.95,322.55 490.52,322.50 491.10,322.46 491.67,322.42 492.25,322.38 492.82,322.35 493.40,322.32 493.97,322.30 494.55,322.27 495.12,322.26 495.69,322.24 496.27,322.23 496.84,322.23 497.42,322.22 497.99,322.22 498.57,322.23 499.14,322.24 499.72,322.25 500.29,322.26 500.87,322.28 501.44,322.30 502.01,322.33 502.59,322.36 503.16,322.39 503.74,322.43 504.31,322.47 504.89,322.52 505.46,322.56 506.04,322.61 506.61,322.67 507.18,322.72 507.76,322.78 508.33,322.84 508.91,322.91 509.48,322.97 510.06,323.04 510.63,323.11 511.21,323.19 511.78,323.26 512.36,323.34 512.93,323.42 513.50,323.50 514.08,323.59 514.65,323.67 515.23,323.76 515.80,323.84 516.38,323.93 516.95,324.02 517.53,324.11 518.10,324.20" stroke="#000" stroke-dasharray="2.57 4.248"/>
<path d="M58.50,321.99 59.07,321.96 59.65,321.92 60.22,321.89 60.80,321.86 61.37,321.83 61.95,321.79 62.52,321.76 63.10,321.73 63.67,321.69 64.25,321.66 64.82,321.63 65.39,321.59 65.97,321.56 66.54,321.52 67.12,321.49 67.69,321.45 68.27,321.41 68.84,321.38 69.42,321.34 69.99,321.31 70.56,321.27 71.14,321.23 71.71,321.19 72.29,321.16 72.86,321.12 73.44,321.08 74.01,321.04 74.59,321.00 75.16,320.96 75.74,320.92 76.31,320.88 76.88,320.84 77.46,320.80 78.03,320.76 78.61,320.72 79.18,320.68 79.76,320.64 80.33,320.60 80.91,320.55 81.48,320.51 82.05,320.47 82.63,320.42 83.20,320.38 83.78,320.34 84.35,320.29 84.93,320.25 85.50,320.20 86.08,320.15 86.65,320.11 87.22,320.06 87.80,320.02 88.37,319.97 88.95,319.92 89.52,319.87 90.10,319.82 90.67,319.78 91.25,319.73 91.82,319.68 92.40,319.63 92.97,319.58 93.54,319.53 94.12,319.47 94.69,319.42 95.27,319.37 95.84,319.32 96.42,319.26 96.99,319.21 97.57,319.16 98.14,319.10 98.72,319.05 99.29,318.99 99.86,318.94 100.44,318.88 101.01,318.82 101.59,318.76 102.16,318.71 102.74,318.65 103.31,318.59 103.89,318.53 104.46,318.47 105.03,318.41 105.61,318.35 106.18,318.29 106.76,318.22 107.33,318.16 107.91,318.10 108.48,318.03 109.06,317.97 109.63,317.90 110.21,317.84 110.78,317.77 111.35,317.70 111.93,317.64 112.50,317.57 113.08,317.50 113.65,317.43 114.23,317.36 114.80,317.29 115.38,317.22 115.95,317.14 116.52,317.07 117.10,317.00 117.67,316.92 118.25,316.85 118.82,316.77 119.40,316.70 119.97,316.62 120.55,316.54 121.12,316.46 121.70,316.38 122.27,316.30 122.84,316.22 123.42,316.14 123.99,316.06 124.57,315.97 125.14,315.89 125.72,315.80 126.29,315.72 126.87,315.63 127.44,315.54 128.01,315.45 128.59,315.37 129.16,315.27 129.74,315.18 130.31,315.09 130.89,315.00 131.46,314.90 132.04,314.81 132.61,314.71 133.19,314.61 133.76,314.52 134.33,314.42 134.91,314.32 135.48,314.21 136.06,314.11 136.63,314.01 137.21,313.90 137.78,313.80 138.36,313.69 138.93,313.58 139.50,313.47 140.08,313.36 140.65,313.25 141.23,313.14 141.80,313.02 142.38,312.91 142.95,312.79 143.53,312.67 144.10,312.55 144.68,312.43 145.25,312.31 145.82,312.19 146.40,312.06 146.97,311.94 147.55,311.81 148.12,311.68 148.70,311.55 149.27,311.42 149.85,311.29 150.42,311.15 150.99,311.01 151.57,310.88 152.14,310.74 152.72,310.59 153.29,310.45 153.87,310.31 154.44,310.16 155.02,310.01 155.59,309.86 156.17,309.71 156.74,309.56 157.31,309.40 157.89,309.24 158.46,309.08 159.04,308.92 159.61,308.76 160.19,308.59 160.76,308.43 161.34,308.26 161.91,308.08 162.48,307.91 163.06,307.74 163.63,307.56 164.21,307.38 164.78,307.19 165.36,307.01 165.93,306.82 166.51,306.63 167.08,306.44 167.66,306.25 168.23,306.05 168.80,305.85 169.38,305.65 169.95,305.44 170.53,305.23 171.10,305.02 171.68,304.81 172.25,304.60 172.83,304.38 173.40,304.15 173.97,303.93 174.55,303.70 175.12,303.47 175.70,303.24 176.27,303.00 176.85,302.76 177.42,302.52 178.00,302.27 178.57,302.02 179.15,301.76 179.72,301.51 180.29,301.25 180.87,300.98 181.44,300.71 182.02,300.44 182.59,300.16 183.17,299.88 183.74,299.60 184.32,299.31 184.89,299.02 185.46,298.72 186.04,298.42 186.61,298.11 187.19,297.80 187.76,297.49 188.34,297.17 188.91,296.84 189.49,296.51 190.06,296.18 190.63,295.84 191.21,295.50 191.78,295.15 192.36,294.79 192.93,294.43 193.51,294.07 194.08,293.69 194.66,293.32 195.23,292.93 195.81,292.54 196.38,292.15 196.95,291.75 197.53,291.34 198.10,290.92 198.68,290.50 199.25,290.08 199.83,289.64 200.40,289.20 200.98,288.75 201.55,288.29 202.12,287.83 202.70,287.36 203.27,286.88 203.85,286.39 204.42,285.89 205.00,285.39 205.57,284.88 206.15,284.36 206.72,283.83 207.30,283.29 207.87,282.74 208.44,282.18 209.02,281.61 209.59,281.04 210.17,280.45 210.74,279.85 211.32,279.24 211.89,278.63 212.47,278.00 213.04,277.36 213.62,276.70 214.19,276.04 214.76,275.36 215.34,274.68 215.91,273.97 216.49,273.26 217.06,272.54 217.64,271.80 218.21,271.04 218.79,270.28 219.36,269.50 219.93,268.70 220.51,267.89 221.08,267.06 221.66,266.22 222.23,265.37 222.81,264.49 223.38,263.60 223.96,262.70 224.53,261.77 225.11,260.83 225.68,259.87 226.25,258.89 226.83,257.90 227.40,256.88 227.98,255.84 228.55,254.79 229.13,253.71 229.70,252.61 230.28,251.49 230.85,250.35 231.42,249.19 232.00,248.00 232.57,246.79 233.15,245.56 233.72,244.30 234.30,243.01 234.87,241.70 235.45,240.37 236.02,239.00 236.60,237.61 237.17,236.20 237.74,234.75 238.32,233.28 238.89,231.77 239.47,230.24 240.04,228.67 240.62,227.08 241.19,225.45 241.77,223.79 242.34,222.10 242.91,220.37 243.49,218.61 244.06,216.81 244.64,214.98 245.21,213.11 245.79,211.21 246.36,209.27 246.94,207.29 247.51,205.28 248.09,203.22 248.66,201.13 249.23,198.99 249.81,196.82 250.38,194.61 250.96,192.35 251.53,190.05 252.11,187.72 252.68,185.34 253.26,182.92 253.83,180.46 254.40,177.95 254.98,175.41 255.55,172.82 256.13,170.19 256.70,167.52 257.28,164.81 257.85,162.05 258.43,159.26 259.00,156.43 259.57,153.56 260.15,150.65 260.72,147.70 261.30,144.72 261.87,141.71 262.45,138.66 263.02,135.58 263.60,132.48 264.17,129.34 264.75,126.18 265.32,123.00 265.89,119.80 266.47,116.59 267.04,113.36 267.62,110.12 268.19,106.88 268.77,103.63 269.34,100.38 269.92,97.14 270.49,93.91 271.06,90.70 271.64,87.51 272.21,84.34 272.79,81.20 273.36,78.10 273.94,75.05 274.51,72.04 275.09,69.09 275.66,66.19 276.24,63.37 276.81,60.62 277.38,57.95 277.96,55.37 278.53,52.88 279.11,50.49 279.68,48.21 280.26,46.04 280.83,43.99 281.41,42.07 281.98,40.28 282.56,38.62 283.13,37.10 283.70,35.73 284.28,34.51 284.85,33.45 285.43,32.54 286.00,31.80 286.58,31.21 287.15,30.80 287.73,30.54 288.30,30.46 288.87,30.54 289.45,30.80 290.02,31.21 290.60,31.80 291.17,32.54 291.75,33.45 292.32,34.51 292.90,35.73 293.47,37.10 294.05,38.62 294.62,40.28 295.19,42.07 295.77,43.99 296.34,46.04 296.92,48.21 297.49,50.49 298.07,52.88 298.64,55.37 299.22,57.95 299.79,60.62 300.36,63.37 300.94,66.19 301.51,69.09 302.09,72.04 302.66,75.05 303.24,78.10 303.81,81.20 304.39,84.34 304.96,87.51 305.54,90.70 306.11,93.91 306.68,97.14 307.26,100.38 307.83,103.63 308.41,106.88 308.98,110.12 309.56,113.36 310.13,116.59 310.71,119.80 311.28,123.00 311.85,126.18 312.43,129.34 313.00,132.48 313.58,135.58 314.15,138.66 314.73,141.71 315.30,144.72 315.88,147.70 316.45,150.65 317.03,153.56 317.60,156.43 318.17,159.26 318.75,162.05 319.32,164.81 319.90,167.52 320.47,170.19 321.05,172.82 321.62,175.41 322.20,177.95 322.77,180.46 323.34,182.92 323.92,185.34 324.49,187.72 325.07,190.05 325.64,192.35 326.22,194.61 326.79,196.82 327.37,198.99 327.94,201.13 328.51,203.22 329.09,205.28 329.66,207.29 330.24,209.27 330.81,211.21 331.39,213.11 331.96,214.98 332.54,216.81 333.11,218.61 333.69,220.37 334.26,222.10 334.83,223.79 335.41,225.45 335.98,227.08 336.56,228.67 337.13,230.24 337.71,231.77 338.28,233.28 338.86,234.75 339.43,236.20 340.00,237.61 340.58,239.00 341.15,240.37 341.73,241.70 342.30,243.01 342.88,244.30 343.45,245.56 344.03,246.79 344.60,248.00 345.18,249.19 345.75,250.35 346.32,251.49 346.90,252.61 347.47,253.71 348.05,254.79 348.62,255.84 349.20,256.88 349.77,257.90 350.35,258.89 350.92,259.87 351.50,260.83 352.07,261.77 352.64,262.70 353.22,263.60 353.79,264.49 354.37,265.37 354.94,266.22 355.52,267.06 356.09,267.89 356.67,268.70 357.24,269.50 357.81,270.28 358.39,271.04 358.96,271.80 359.54,272.54 360.11,273.26 360.69,273.97 361.26,274.68 361.84,275.36 362.41,276.04 362.99,276.70 363.56,277.36 364.13,278.00 364.71,278.63 365.28,279.24 365.86,279.85 366.43,280.45 367.01,281.04 367.58,281.61 368.16,282.18 368.73,282.74 369.30,283.29 369.88,283.83 370.45,284.36 371.03,284.88 371.60,285.39 372.18,285.89 372.75,286.39 373.33,286.88 373.90,287.36 374.48,287.83 375.05,288.29 375.62,288.75 376.20,289.20 376.77,289.64 377.35,290.08 377.92,290.50 378.50,290.92 379.07,291.34 379.65,291.75 380.22,292.15 380.79,292.54 381.37,292.93 381.94,293.32 382.52,293.69 383.09,294.07 383.67,294.43 384.24,294.79 384.82,295.15 385.39,295.50 385.97,295.84 386.54,296.18 387.11,296.51 387.69,296.84 388.26,297.17 388.84,297.49 389.41,297.80 389.99,298.11 390.56,298.42 391.14,298.72 391.71,299.02 392.28,299.31 392.86,299.60 393.43,299.88 394.01,300.16 394.58,300.44 395.16,300.71 395.73,300.98 396.31,301.25 396.88,301.51 397.46,301.76 398.03,302.02 398.60,302.27 399.18,302.52 399.75,302.76 400.33,303.00 400.90,303.24 401.48,303.47 402.05,303.70 402.63,303.93 403.20,304.15 403.77,304.38 404.35,304.60 404.92,304.81 405.50,305.02 406.07,305.23 406.65,305.44 407.22,305.65 407.80,305.85 408.37,306.05 408.94,306.25 409.52,306.44 410.09,306.63 410.67,306.82 411.24,307.01 411.82,307.19 412.39,307.38 412.97,307.56 413.54,307.74 414.12,307.91 414.69,308.08 415.26,308.26 415.84,308.43 416.41,308.59 416.99,308.76 417.56,308.92 418.14,309.08 418.71,309.24 419.29,309.40 419.86,309.56 420.44,309.71 421.01,309.86 421.58,310.01 422.16,310.16 422.73,310.31 423.31,310.45 423.88,310.59 424.46,310.74 425.03,310.88 425.61,311.01 426.18,311.15 426.75,311.29 427.33,311.42 427.90,311.55 428.48,311.68 429.05,311.81 429.63,311.94 430.20,312.06 430.78,312.19 431.35,312.31 431.93,312.43 432.50,312.55 433.07,312.67 433.65,312.79 434.22,312.91 434.80,313.02 435.37,313.14 435.95,313.25 436.52,313.36 437.10,313.47 437.67,313.58 438.24,313.69 438.82,313.80 439.39,313.90 439.97,314.01 440.54,314.11 441.12,314.21 441.69,314.32 442.27,314.42 442.84,314.52 443.42,314.61 443.99,314.71 444.56,314.81 445.14,314.90 445.71,315.00 446.29,315.09 446.86,315.18 447.44,315.27 448.01,315.37 448.59,315.45 449.16,315.54 449.73,315.63 450.31,315.72 450.88,315.80 451.46,315.89 452.03,315.97 452.61,316.06 453.18,316.14 453.76,316.22 454.33,316.30 454.90,316.38 455.48,316.46 456.05,316.54 456.63,316.62 457.20,316.70 457.78,316.77 458.35,316.85 458.93,316.92 459.50,317.00 460.08,317.07 460.65,317.14 461.22,317.22 461.80,317.29 462.37,317.36 462.95,317.43 463.52,317.50 464.10,317.57 464.67,317.64 465.25,317.70 465.82,317.77 466.39,317.84 466.97,317.90 467.54,317.97 468.12,318.03 468.69,318.10 469.27,318.16 469.84,318.22 470.42,318.29 470.99,318.35 471.57,318.41 472.14,318.47 472.71,318.53 473.29,318.59 473.86,318.65 474.44,318.71 475.01,318.76 475.59,318.82 476.16,318.88 476.74,318.94 477.31,318.99 477.88,319.05 478.46,319.10 479.03,319.16 479.61,319.21 480.18,319.26 480.76,319.32 481.33,319.37 481.91,319.42 482.48,319.47 483.06,319.53 483.63,319.58 484.20,319.63 484.78,319.68 485.35,319.73 485.93,319.78 486.50,319.82 487.08,319.87 487.65,319.92 488.23,319.97 488.80,320.02 489.38,320.06 489.95,320.11 490.52,320.15 491.10,320.20 491.67,320.25 492.25,320.29 492.82,320.34 493.40,320.38 493.97,320.42 494.55,320.47 495.12,320.51 495.69,320.55 496.27,320.60 496.84,320.64 497.42,320.68 497.99,320.72 498.57,320.76 499.14,320.80 499.72,320.84 500.29,320.88 500.87,320.92 501.44,320.96 502.01,321.00 502.59,321.04 503.16,321.08 503.74,321.12 504.31,321.16 504.89,321.19 505.46,321.23 506.04,321.27 506.61,321.31 507.18,321.34 507.76,321.38 508.33,321.41 508.91,321.45 509.48,321.49 510.06,321.52 510.63,321.56 511.21,321.59 511.78,321.63 512.36,321.66 512.93,321.69 513.50,321.73 514.08,321.76 514.65,321.79 515.23,321.83 515.80,321.86 516.38,321.89 516.95,321.92 517.53,321.96 518.10,321.99" stroke="#d62728" stroke-linecap="square"/>
</g>
<g stroke="#000" stroke-width="1.2" fill="none">
<rect x="58.5" y="0.65" width="459.6" height="342.8"/>
<path d="M58.5,343.45V348.05M173.4,343.45V348.05M288.3,343.45V348.05M403.2,343.45V348.05M518.1,343.45V348.05"/>
<path d="M58.5,328.46H53.9M58.5,179.46H53.9M58.5,30.45H53.9"/>
</g>
<g fill="#000">
<text><tspan x="35.62" y="369.27" font-size="27.24" font-family='"Liberation Serif", serif' stroke="#000" stroke-width="0.25" textLength="13.01" lengthAdjust="spacingAndGlyphs">−</tspan><tspan x="49.82" y="365.60" font-size="19.28" font-family='"Liberation Serif", serif' stroke="#000" stroke-width="0.25" textLength="9.06" lengthAdjust="spacingAndGlyphs">1</tspan><tspan x="60.58" y="365.66" font-size="19.22" font-family='"Liberation Serif", serif' stroke="#000" stroke-width="0.25" textLength="10.20" lengthAdjust="spacingAndGlyphs">0</tspan><tspan x="71.49" y="365.66" font-size="19.22" font-family='"Liberation Serif", serif' stroke="#000" stroke-width="0.25" textLength="10.20" lengthAdjust="spacingAndGlyphs">0</tspan></text>
<text><tspan x="155.97" y="369.27" font-size="27.24" font-family='"Liberation Serif", serif' stroke="#000" stroke-width="0.25" textLength="13.01" lengthAdjust="spacingAndGlyphs">−</tspan><tspan x="169.96" y="365.66" font-size="19.18" font-family='"Liberation Serif", serif' stroke="#000" stroke-width="0.25" textLength="10.09" lengthAdjust="spacingAndGlyphs">5</tspan><tspan x="180.94" y="365.66" font-size="19.22" font-family='"Liberation Serif", serif' stroke="#000" stroke-width="0.25" textLength="10.20" lengthAdjust="spacingAndGlyphs">0</tspan></text>
<text><tspan x="283.20" y="365.66" font-size="19.22" font-family='"Liberation Serif", serif' stroke="#000" stroke-width="0.25" textLength="10.20" lengthAdjust="spacingAndGlyphs">0</tspan></text>
<text><tspan x="392.57" y="365.66" font-size="19.18" font-family='"Liberation Serif", serif' stroke="#000" stroke-width="0.25" textLength="10.09" lengthAdjust="spacingAndGlyphs">5</tspan><tspan x="403.55" y="365.66" font-size="19.22" font-family='"Liberation Serif", serif' stroke="#000" stroke-width="0.25" textLength="10.20" lengthAdjust="spacingAndGlyphs">0</tspan></text>
<text><tspan x="502.23" y="365.60" font-size="19.28" font-family='"Liberation Serif", serif' stroke="#000" stroke-width="0.25" textLength="9.06" lengthAdjust="spacingAndGlyphs">1</tspan><tspan x="513.00" y="365.66" font-size="19.22" font-family='"Liberation Serif", serif' stroke="#000" stroke-width="0.25" textLength="10.20" lengthAdjust="spacingAndGlyphs">0</tspan><tspan x="523.91" y="365.66" font-size="19.22" font-family='"Liberation Serif", serif' stroke="#000" stroke-width="0.25" textLength="10.20" lengthAdjust="spacingAndGlyphs">0</tspan></text>
<text><tspan x="22.98" y="335.17" font-size="19.22" font-family='"Liberation Serif", serif' stroke="#000" stroke-width="0.25" textLength="10.20" lengthAdjust="spacingAndGlyphs">0</tspan><tspan x="33.91" y="335.08" font-size="18.92" font-family='"Liberation Serif", serif' stroke="#000" stroke-width="0.25" textLength="4.71" lengthAdjust="spacingAndGlyphs">.</tspan><tspan x="39.34" y="335.17" font-size="19.22" font-family='"Liberation Serif", serif' stroke="#000" stroke-width="0.25" textLength="10.20" lengthAdjust="spacingAndGlyphs">0</tspan></text>
<text><tspan x="22.98" y="186.17" font-size="19.22" font-family='"Liberation Serif", serif' stroke="#000" stroke-width="0.25" textLength="10.20" lengthAdjust="spacingAndGlyphs">0</tspan><tspan x="33.91" y="186.08" font-size="18.92" font-family='"Liberation Serif", serif' stroke="#000" stroke-width="0.25" textLength="4.71" lengthAdjust="spacingAndGlyphs">.</tspan><tspan x="39.27" y="186.17" font-size="19.18" font-family='"Liberation Serif", serif' stroke="#000" stroke-width="0.25" textLength="10.09" lengthAdjust="spacingAndGlyphs">5</tspan></text>
<text><tspan x="23.13" y="37.11" font-size="19.28" font-family='"Liberation Serif", serif' stroke="#000" stroke-width="0.25" textLength="9.06" lengthAdjust="spacingAndGlyphs">1</tspan><tspan x="33.91" y="37.08" font-size="18.92" font-family='"Liberation Serif", serif' stroke="#000" stroke-width="0.25" textLength="4.71" lengthAdjust="spacingAndGlyphs">.</tspan><tspan x="39.34" y="37.17" font-size="19.22" font-family='"Liberation Serif", serif' stroke="#000" stroke-width="0.25" textLength="10.20" lengthAdjust="spacingAndGlyphs">0</tspan></text>
<text><tspan x="258.86" y="388.20" font-size="18.63" font-family='"Liberation Sans", sans-serif' font-style="italic" stroke="#000" stroke-width="0.15" textLength="9.98" lengthAdjust="spacingAndGlyphs">z</tspan><tspan font-family='"Liberation Serif", serif'> </tspan><tspan x="274.66" y="387.13" font-size="18.17" font-family='"Liberation Serif", serif' stroke="#000" stroke-width="0.25" textLength="5.60" lengthAdjust="spacingAndGlyphs">(</tspan><tspan x="279.57" y="387.78" font-size="19.45" font-family='"Liberation Serif", serif' stroke="#000" stroke-width="0.25" textLength="13.51" lengthAdjust="spacingAndGlyphs">μ</tspan><tspan x="292.89" y="388.20" font-size="20.37" font-family='"Liberation Serif", serif' stroke="#000" stroke-width="0.25" textLength="16.71" lengthAdjust="spacingAndGlyphs">m</tspan><tspan x="310.49" y="387.13" font-size="18.17" font-family='"Liberation Serif", serif' stroke="#000" stroke-width="0.25" textLength="5.61" lengthAdjust="spacingAndGlyphs">)</tspan></text>
<g transform="translate(13.9,171.75) rotate(-90)">
<text><tspan x="-66.77" y="0.00" font-size="20.04" font-family='"Liberation Serif", serif' stroke="#000" stroke-width="0.25" textLength="6.52" lengthAdjust="spacingAndGlyphs">I</tspan><tspan x="-59.81" y="0.00" font-size="20.37" font-family='"Liberation Serif", serif' stroke="#000" stroke-width="0.25" textLength="11.30" lengthAdjust="spacingAndGlyphs">n</tspan><tspan x="-48.08" y="0.04" font-size="21.82" font-family='"Liberation Serif", serif' stroke="#000" stroke-width="0.25" textLength="6.97" lengthAdjust="spacingAndGlyphs">t</tspan><tspan x="-41.16" y="0.05" font-size="20.49" font-family='"Liberation Serif", serif' stroke="#000" stroke-width="0.25" textLength="10.62" lengthAdjust="spacingAndGlyphs">e</tspan><tspan x="-30.34" y="0.00" font-size="20.37" font-family='"Liberation Serif", serif' stroke="#000" stroke-width="0.25" textLength="11.30" lengthAdjust="spacingAndGlyphs">n</tspan><tspan x="-18.82" y="0.05" font-size="20.49" font-family='"Liberation Serif", serif' stroke="#000" stroke-width="0.25" textLength="9.11" lengthAdjust="spacingAndGlyphs">s</tspan><tspan x="-9.40" y="0.00" font-size="20.00" font-family='"Liberation Serif", serif' stroke="#000" stroke-width="0.25" textLength="5.48" lengthAdjust="spacingAndGlyphs">i</tspan><tspan x="-3.61" y="0.04" font-size="21.82" font-family='"Liberation Serif", serif' stroke="#000" stroke-width="0.25" textLength="6.97" lengthAdjust="spacingAndGlyphs">t</tspan><tspan x="3.04" y="-0.27" font-size="19.77" font-family='"Liberation Serif", serif' stroke="#000" stroke-width="0.25" textLength="10.51" lengthAdjust="spacingAndGlyphs">y</tspan><tspan font-family='"Liberation Serif", serif'> </tspan><tspan x="19.93" y="-1.07" font-size="18.17" font-family='"Liberation Serif", serif' stroke="#000" stroke-width="0.25" textLength="5.60" lengthAdjust="spacingAndGlyphs">(</tspan><tspan x="26.33" y="0.05" font-size="20.57" font-family='"Liberation Serif", serif' stroke="#000" stroke-width="0.25" textLength="10.48" lengthAdjust="spacingAndGlyphs">a</tspan><tspan x="37.39" y="-0.03" font-size="19.86" font-family='"Liberation Serif", serif' stroke="#000" stroke-width="0.25" textLength="4.95" lengthAdjust="spacingAndGlyphs">.</tspan><tspan x="42.91" y="0.05" font-size="20.48" font-family='"Liberation Serif", serif' stroke="#000" stroke-width="0.25" textLength="11.11" lengthAdjust="spacingAndGlyphs">u</tspan><tspan x="54.70" y="-0.03" font-size="19.86" font-family='"Liberation Serif", serif' stroke="#000" stroke-width="0.25" textLength="4.95" lengthAdjust="spacingAndGlyphs">.</tspan><tspan x="60.77" y="-1.07" font-size="18.17" font-family='"Liberation Serif", serif' stroke="#000" stroke-width="0.25" textLength="5.61" lengthAdjust="spacingAndGlyphs">)</tspan></text>
</g>
</g>
<rect x="402.2" y="8.0" width="108.30000000000001" height="101.4" rx="3.2" fill="#fff" fill-opacity="0.8" stroke="#d6d6d6" stroke-width="1.3"/>
<g stroke-width="2.57" fill="none">
<path d="M408.2,21.7H439.1" stroke="#1f77b4" stroke-linecap="square"/>
<path d="M408.2,47.6H439.1" stroke="#ff7f0e" stroke-linecap="square"/>
<path d="M408.2,71.5H439.1" stroke="#000" stroke-dasharray="2.57 4.248"/>
<path d="M408.2,94.5H439.1" stroke="#d62728" stroke-linecap="square"/>
</g>
<g fill="#000">
<text><tspan x="451.55" y="26.60" font-size="17.48" font-family='"Liberation Serif", serif' stroke="#000" stroke-width="0.25" textLength="5.69" lengthAdjust="spacingAndGlyphs">I</tspan><tspan x="457.76" y="28.74" font-size="11.32" font-family='"Liberation Sans", sans-serif' font-style="italic" stroke="#000" stroke-width="0.15" textLength="6.59" lengthAdjust="spacingAndGlyphs">p</tspan><tspan x="464.68" y="28.84" font-size="11.52" font-family='"Liberation Sans", sans-serif' font-style="italic" stroke="#000" stroke-width="0.15" textLength="6.19" lengthAdjust="spacingAndGlyphs">a</tspan><tspan x="471.38" y="28.80" font-size="11.44" font-family='"Liberation Sans", sans-serif' font-style="italic" stroke="#000" stroke-width="0.15" textLength="4.47" lengthAdjust="spacingAndGlyphs">r</tspan><tspan x="475.93" y="28.84" font-size="11.52" font-family='"Liberation Sans", sans-serif' font-style="italic" stroke="#000" stroke-width="0.15" textLength="6.19" lengthAdjust="spacingAndGlyphs">a</tspan><tspan x="482.49" y="26.40" font-size="15.91" font-family='"Liberation Sans", sans-serif' stroke="#000" stroke-width="0.15" textLength="4.42" lengthAdjust="spacingAndGlyphs">(</tspan><tspan x="488.15" y="27.20" font-size="16.25" font-family='"Liberation Sans", sans-serif' font-style="italic" stroke="#000" stroke-width="0.15" textLength="8.71" lengthAdjust="spacingAndGlyphs">z</tspan><tspan x="497.51" y="26.40" font-size="15.91" font-family='"Liberation Sans", sans-serif' stroke="#000" stroke-width="0.15" textLength="4.42" lengthAdjust="spacingAndGlyphs">)</tspan></text>
<text><tspan x="451.55" y="51.80" font-size="17.48" font-family='"Liberation Serif", serif' stroke="#000" stroke-width="0.25" textLength="5.69" lengthAdjust="spacingAndGlyphs">I</tspan><tspan x="457.46" y="54.04" font-size="11.74" font-family='"Liberation Sans", sans-serif' font-style="italic" stroke="#000" stroke-width="0.15" textLength="8.48" lengthAdjust="spacingAndGlyphs">G</tspan><tspan x="466.54" y="51.60" font-size="15.91" font-family='"Liberation Sans", sans-serif' stroke="#000" stroke-width="0.15" textLength="4.42" lengthAdjust="spacingAndGlyphs">(</tspan><tspan x="472.20" y="52.40" font-size="16.25" font-family='"Liberation Sans", sans-serif' font-style="italic" stroke="#000" stroke-width="0.15" textLength="8.71" lengthAdjust="spacingAndGlyphs">z</tspan><tspan x="481.56" y="51.60" font-size="15.91" font-family='"Liberation Sans", sans-serif' stroke="#000" stroke-width="0.15" textLength="4.42" lengthAdjust="spacingAndGlyphs">)</tspan></text>
<text><tspan x="451.32" y="75.05" font-size="17.67" font-family='"Liberation Serif", serif' stroke="#000" stroke-width="0.25" textLength="10.79" lengthAdjust="spacingAndGlyphs">S</tspan><tspan x="462.41" y="75.00" font-size="17.48" font-family='"Liberation Serif", serif' stroke="#000" stroke-width="0.25" textLength="10.75" lengthAdjust="spacingAndGlyphs">L</tspan><tspan x="472.77" y="77.20" font-size="11.52" font-family='"Liberation Sans", sans-serif' font-style="italic" stroke="#000" stroke-width="0.15" textLength="3.79" lengthAdjust="spacingAndGlyphs">f</tspan><tspan x="476.55" y="77.20" font-size="11.52" font-family='"Liberation Sans", sans-serif' font-style="italic" stroke="#000" stroke-width="0.15" textLength="2.54" lengthAdjust="spacingAndGlyphs">i</tspan><tspan x="479.44" y="77.09" font-size="11.76" font-family='"Liberation Sans", sans-serif' font-style="italic" stroke="#000" stroke-width="0.15" textLength="4.10" lengthAdjust="spacingAndGlyphs">t</tspan><tspan x="484.24" y="74.80" font-size="15.91" font-family='"Liberation Sans", sans-serif' stroke="#000" stroke-width="0.15" textLength="4.42" lengthAdjust="spacingAndGlyphs">(</tspan><tspan x="489.89" y="75.60" font-size="16.25" font-family='"Liberation Sans", sans-serif' font-style="italic" stroke="#000" stroke-width="0.15" textLength="8.71" lengthAdjust="spacingAndGlyphs">z</tspan><tspan x="499.26" y="74.80" font-size="15.91" font-family='"Liberation Sans", sans-serif' stroke="#000" stroke-width="0.15" textLength="4.42" lengthAdjust="spacingAndGlyphs">)</tspan></text>
<text><tspan x="451.22" y="99.40" font-size="16.64" font-family='"Liberation Sans", sans-serif' font-style="italic" stroke="#000" stroke-width="0.15" textLength="9.01" lengthAdjust="spacingAndGlyphs">L</tspan><tspan x="460.57" y="98.60" font-size="15.91" font-family='"Liberation Sans", sans-serif' stroke="#000" stroke-width="0.15" textLength="4.42" lengthAdjust="spacingAndGlyphs">(</tspan><tspan x="466.23" y="99.40" font-size="16.25" font-family='"Liberation Sans", sans-serif' font-style="italic" stroke="#000" stroke-width="0.15" textLength="8.71" lengthAdjust="spacingAndGlyphs">z</tspan><tspan x="475.59" y="98.60" font-size="15.91" font-family='"Liberation Sans", sans-serif' stroke="#000" stroke-width="0.15" textLength="4.42" lengthAdjust="spacingAndGlyphs">)</tspan></text>
</g>
</svg>
</body></html>
